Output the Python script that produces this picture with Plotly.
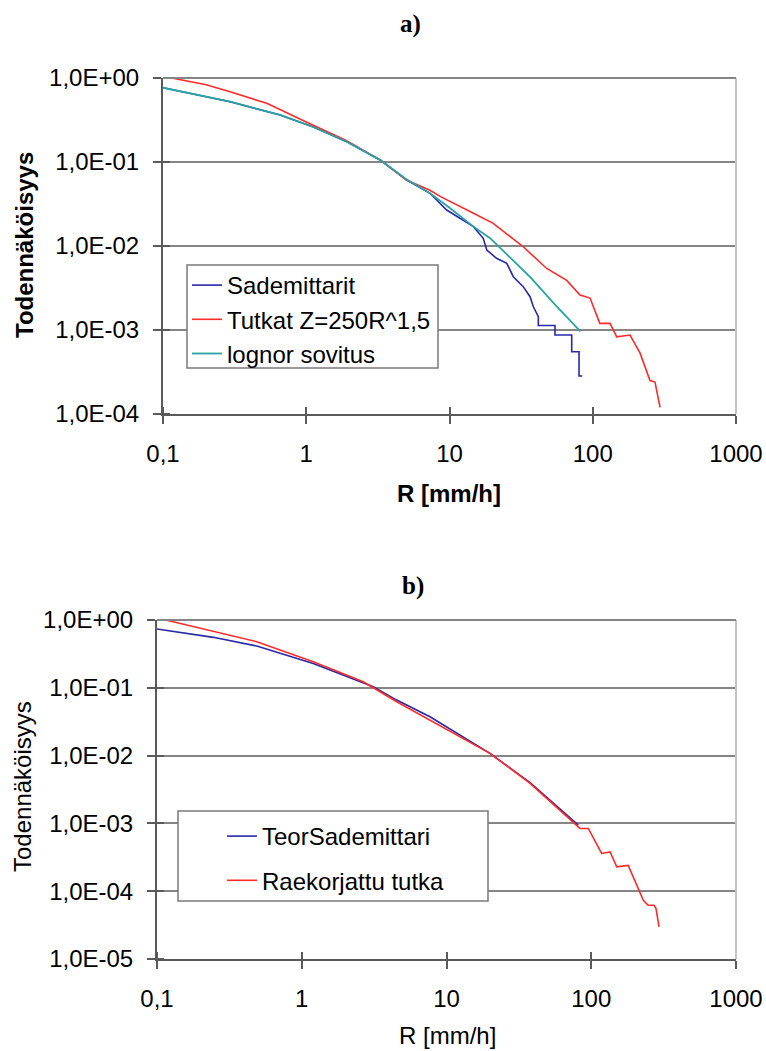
import plotly.graph_objects as go

W, H = 766, 1051

# ---------------- Data ----------------
# Panel a)
a_sade_x = [0.1, 0.154, 0.294, 0.656, 1.11, 1.92, 3.27, 5.03, 7.31, 9.55, 14.7, 17.2, 18.2, 21.3,
            25.1, 27.9, 32.7, 36.5, 38.5, 41.7, 41.7, 54.5, 54.5, 71.3, 71.3, 80.2, 80.2, 84.5]
a_sade_y = [0.766, 0.657, 0.522, 0.363, 0.263, 0.174, 0.106, 0.061, 0.0424, 0.0268, 0.0170, 0.01235,
            0.00896, 0.00714, 0.00622, 0.00431, 0.00328, 0.00249, 0.00189, 0.00144, 0.00113, 0.00113,
            0.000871, 0.000871, 0.000552, 0.000552, 0.000283, 0.000283]

a_tutka_x = [0.115, 0.15, 0.20, 0.29, 0.53, 1.0, 1.9, 3.3, 5.0, 7.3, 8.6, 14.7, 20.2, 32.7, 47.7,
             65.8, 81.5, 95.7, 112, 132, 147, 182, 214, 251, 272, 295]
a_tutka_y = [1.0, 0.92, 0.83, 0.69, 0.50, 0.30, 0.18, 0.105, 0.061, 0.046, 0.039, 0.0245, 0.0186,
             0.0098, 0.0054, 0.0039, 0.0026, 0.0024, 0.0012, 0.0012, 0.00083, 0.00087, 0.00053,
             0.00025, 0.00024, 0.00012]

a_lognor_x = [0.1, 0.154, 0.294, 0.656, 1.11, 1.92, 3.27, 5.03, 7.31, 10, 14.7, 19.2, 27, 36.5, 54.5, 82]
a_lognor_y = [0.766, 0.657, 0.522, 0.363, 0.263, 0.174, 0.106, 0.062, 0.0424, 0.0286, 0.017, 0.0124,
              0.0071, 0.0043, 0.0020, 0.00096]

# Panel b)
b_teor_x = [0.1, 0.245, 0.489, 1.20, 3.12, 4.53, 7.69, 13.8, 19.96, 37.8, 55, 81.4]
b_teor_y = [0.736, 0.555, 0.413, 0.229, 0.104, 0.0659, 0.0374, 0.0172, 0.0108, 0.0040, 0.00194, 0.000942]

b_rae_x = [0.117, 0.245, 0.489, 1.20, 2.66, 4.53, 7.69, 13.8, 19.96, 37.8, 83.6, 95.4, 118, 135,
           150, 180, 229, 247, 271, 280, 294]
b_rae_y = [0.99, 0.672, 0.479, 0.242, 0.123, 0.0623, 0.0334, 0.0169, 0.0108, 0.00389, 0.000842,
           0.000842, 0.00036, 0.00038, 0.000229, 0.00024, 7.36e-5, 6.2e-5, 6.2e-5, 5.6e-5, 2.97e-5]

# Axis ticks
x_tickvals = [0.1, 1, 10, 100, 1000]
x_ticktext = ["0,1", "1", "10", "100", "1000"]
ya_tickvals = [1, 0.1, 0.01, 0.001, 0.0001]
ya_ticktext = ["1,0E+00", "1,0E-01", "1,0E-02", "1,0E-03", "1,0E-04"]
yb_tickvals = [1, 0.1, 0.01, 0.001, 0.0001, 0.00001]
yb_ticktext = ["1,0E+00", "1,0E-01", "1,0E-02", "1,0E-03", "1,0E-04", "1,0E-05"]

# ---------------- Styling ----------------
BLUE = "#2828a8"
RED = "#ff2a2a"
TEAL = "#2aa3a3"
FONT = "Arial, Liberation Sans, sans-serif"
SERIF = "Times New Roman, Liberation Serif, serif"
AXC = "#5a5a5a"
GRID = "#858585"


def px(x):
    return x / W


def py(y):
    return 1 - y / H


fig = go.Figure()

fig.add_trace(go.Scatter(x=a_sade_x, y=a_sade_y, mode="lines", name="Sademittarit",
                         line=dict(color=BLUE, width=1.6), xaxis="x", yaxis="y",
                         legend="legend", legendgroup="a1", cliponaxis=False))
fig.add_trace(go.Scatter(x=a_tutka_x, y=a_tutka_y, mode="lines", name="Tutkat Z=250R^1,5",
                         line=dict(color=RED, width=1.6), xaxis="x", yaxis="y",
                         legend="legend", legendgroup="a2", cliponaxis=False))
fig.add_trace(go.Scatter(x=a_lognor_x, y=a_lognor_y, mode="lines", name="lognor sovitus",
                         line=dict(color=TEAL, width=1.8), xaxis="x", yaxis="y",
                         legend="legend", legendgroup="a3", cliponaxis=False))
fig.add_trace(go.Scatter(x=b_teor_x, y=b_teor_y, mode="lines", name="TeorSademittari",
                         line=dict(color=BLUE, width=1.6), xaxis="x2", yaxis="y2",
                         legend="legend2", legendgroup="b1", cliponaxis=False))
fig.add_trace(go.Scatter(x=b_rae_x, y=b_rae_y, mode="lines", name="Raekorjattu tutka",
                         line=dict(color=RED, width=1.6), xaxis="x2", yaxis="y2",
                         legend="legend2", legendgroup="b2", cliponaxis=False))

tickfont = dict(family=FONT, size=24, color="black")


def xaxis_cfg(domain, anchor):
    return dict(domain=domain, anchor=anchor, type="log", range=[-1, 3], automargin=False,
                tickmode="array", tickvals=x_tickvals, ticktext=x_ticktext,
                ticks="outside", ticklen=8, tickwidth=1.5, tickcolor=AXC,
                showline=True, linecolor=AXC, linewidth=2, showgrid=False, zeroline=False,
                tickfont=tickfont, ticklabelstandoff=9,
                minor=dict(ticks="inside", ticklen=7, tickwidth=1.5, tickcolor=AXC,
                           tickmode="array", tickvals=x_tickvals, showgrid=False))


def yaxis_cfg(domain, anchor, rng, vals, text):
    return dict(domain=domain, anchor=anchor, type="log", range=rng, automargin=False,
                tickmode="array", tickvals=vals, ticktext=text,
                ticks="outside", ticklen=8, tickwidth=1.5, tickcolor=AXC,
                showline=True, linecolor=AXC, linewidth=2,
                showgrid=True, gridcolor=GRID, gridwidth=2, zeroline=False,
                tickfont=tickfont, ticklabelstandoff=9,
                minor=dict(ticks="inside", ticklen=7, tickwidth=1.5, tickcolor=AXC,
                           tickmode="array", tickvals=vals, showgrid=False))


shapes = []
for xr, yr in (("x", "y"), ("x2", "y2")):
    shapes.append(dict(type="line", xref=f"{xr} domain", yref=f"{yr} domain",
                       x0=1, x1=1, y0=0, y1=1, line=dict(color="#c4c4c4", width=2)))
    shapes.append(dict(type="line", xref=f"{xr} domain", yref=f"{yr} domain",
                       x0=0, x1=1, y0=1, y1=1, line=dict(color=GRID, width=2)))

# legend boxes
shapes.append(dict(type="rect", xref="paper", yref="paper", layer="above",
                   x0=px(187), x1=px(438), y0=py(368), y1=py(265),
                   fillcolor="white", line=dict(color="#7a7a7a", width=1.5)))
shapes.append(dict(type="rect", xref="paper", yref="paper", layer="above",
                   x0=px(178), x1=px(488), y0=py(901), y1=py(811),
                   fillcolor="white", line=dict(color="#7a7a7a", width=1.5)))


def ann(text, x, y, font, angle=0):
    return dict(text=text, x=px(x), y=py(y), xref="paper", yref="paper", showarrow=False,
                xanchor="center", yanchor="middle", textangle=angle, font=font)


annotations = [
    ann("<b>a)</b>", 410, 24, dict(family=SERIF, size=25, color="black")),
    ann("<b>b)</b>", 413, 586, dict(family=SERIF, size=25, color="black")),
    ann("<b>R [mm/h]</b>", 449, 493, dict(family=FONT, size=24, color="black")),
    ann("R [mm/h]", 447, 1035, dict(family=FONT, size=24, color="black")),
    ann("<b>Todennäköisyys</b>", 25, 245, dict(family=FONT, size=24, color="black"), -90),
    ann("Todennäköisyys", 22, 787, dict(family=FONT, size=24, color="black"), -90),
]

legend_font = dict(family=FONT, size=24, color="black")

fig.update_layout(
    width=W, height=H, autosize=False,
    margin=dict(l=0, r=0, t=0, b=0, pad=0),
    paper_bgcolor="white", plot_bgcolor="white",
    xaxis=xaxis_cfg([px(163), px(736)], "y"),
    yaxis=yaxis_cfg([py(414), py(78)], "x", [-4, 0], ya_tickvals, ya_ticktext),
    xaxis2=xaxis_cfg([px(157), px(736)], "y2"),
    yaxis2=yaxis_cfg([py(959), py(620)], "x2", [-5, 0], yb_tickvals, yb_ticktext),
    legend=dict(x=px(187), y=py(263), xanchor="left", yanchor="top",
                bgcolor="rgba(0,0,0,0)", borderwidth=0, font=legend_font,
                traceorder="grouped", tracegroupgap=0, itemwidth=30),
    legend2=dict(x=px(222), y=py(814), xanchor="left", yanchor="top",
                 bgcolor="rgba(0,0,0,0)", borderwidth=0, font=legend_font,
                 traceorder="grouped", tracegroupgap=10, itemwidth=30),
    shapes=shapes,
    annotations=annotations,
    showlegend=True,
)

fig.write_html("out.html", config={"displayModeBar": False},
               post_script="document.body.style.margin='0px';")
